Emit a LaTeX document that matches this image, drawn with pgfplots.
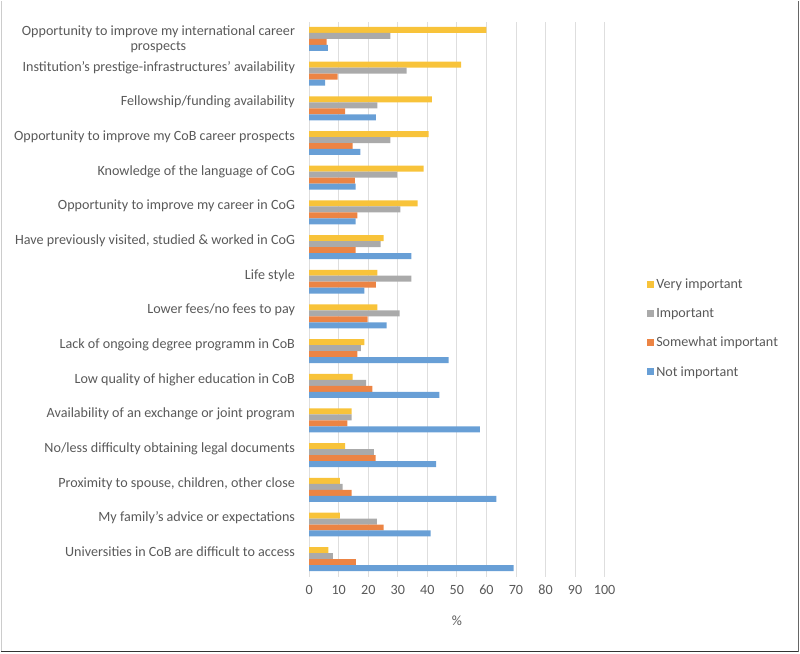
\documentclass[border=0pt]{standalone}
\usepackage{fontspec}
\setmainfont{Carlito}
\usepackage{pgfplots}
\pgfplotsset{compat=1.18}
\definecolor{cvery}{HTML}{F8C33A}
\definecolor{cimp}{HTML}{AAAAAA}
\definecolor{csome}{HTML}{EC8444}
\definecolor{cnot}{HTML}{689FD6}
\definecolor{gridc}{HTML}{DEDEDE}
\definecolor{txt}{HTML}{595959}
\begin{document}
\begin{tikzpicture}[font=\fontsize{10.6}{11.25}\selectfont]
\path (0,0) rectangle (600pt,489.75pt);
\draw[gray!40, line width=1pt] (0.5pt,0pt) -- (0.5pt,489.75pt);
\draw[black!80, line width=1.2pt] (0pt,0.6pt) -- (600pt,0.6pt);
\draw[black!60, line width=1pt] (599.5pt,0pt) -- (599.5pt,489.75pt);
\begin{axis}[
  at={(231.75pt,57pt)}, anchor=south west,
  scale only axis, width=222pt, height=417pt,
  xmin=0, xmax=100, xtick={0,10,...,100},
  ymin=-0.5, ymax=15.5, ytick={0,...,15},
  yticklabels={
    {Universities in CoB are difficult to access\\\mbox{}},
    {My family's advice or expectations\\\mbox{}},
    {Proximity to spouse, children, other close\\\mbox{}},
    {No/less difficulty obtaining legal documents\\\mbox{}},
    {Availability of an exchange or joint program\\\mbox{}},
    {Low quality of higher education in CoB\\\mbox{}},
    {Lack of ongoing degree programm in CoB\\\mbox{}},
    {Lower fees/no fees to pay\\\mbox{}},
    {Life style\\\mbox{}},
    {Have previously visited, studied \& worked in CoG\\\mbox{}},
    {Opportunity to improve my career in CoG\\\mbox{}},
    {Knowledge of the language of CoG\\\mbox{}},
    {Opportunity to improve my CoB career prospects\\\mbox{}},
    {Fellowship/funding availability\\\mbox{}},
    {Institution's prestige-infrastructures' availability\\\mbox{}},
    {Opportunity to improve my international career\\prospects}
  },
  yticklabel style={anchor=east, inner sep=0pt, xshift=-10.5pt, align=center, text=txt},
  xticklabel style={anchor=center, inner sep=0pt, yshift=-9.75pt, text=txt},
  /pgf/number format/assume math mode=true,
  xlabel={\%},
  xlabel style={at={(axis description cs:0.5,0)}, anchor=center, yshift=-33pt, text=txt},
  axis line style={draw=none},
  major tick length=0pt,
  xmajorgrids, grid style={color=gridc, line width=0.7pt},
  xbar, bar width=4.5pt,
  legend style={at={(1.128,0.5466)}, anchor=north west, draw=none, fill=none,
    text=txt, row sep=9.3pt, font=\fontsize{10.6}{11.25}\selectfont,
    /tikz/every even column/.append style={column sep=1pt}},
  legend cell align=left,
  every axis plot/.append style={draw=none,
    legend image code/.code={\fill[##1,draw=none] (0pt,-2.3pt) rectangle (5.2pt,2.9pt);}},
]
\addplot[fill=cvery, bar shift=6.75pt] coordinates {
 (60.0,15) (51.4,14) (41.5,13) (40.4,12) (38.7,11) (36.7,10) (25.2,9) (23.1,8)
 (23.1,7) (18.7,6) (14.7,5) (14.4,4) (12.2,3) (10.4,2) (10.4,1) (6.5,0)};
\addplot[fill=cimp, bar shift=2.25pt] coordinates {
 (27.5,15) (33.0,14) (23.1,13) (27.5,12) (29.8,11) (30.9,10) (24.2,9) (34.6,8)
 (30.6,7) (17.5,6) (19.3,5) (14.4,4) (21.9,3) (11.3,2) (22.9,1) (8.0,0)};
\addplot[fill=csome, bar shift=-2.25pt] coordinates {
 (5.9,15) (9.6,14) (12.2,13) (14.7,12) (15.5,11) (16.3,10) (15.7,9) (22.6,8)
 (19.8,7) (16.3,6) (21.4,5) (12.9,4) (22.5,3) (14.4,2) (25.2,1) (15.8,0)};
\addplot[fill=cnot, bar shift=-6.75pt] coordinates {
 (6.3,15) (5.4,14) (22.6,13) (17.3,12) (15.7,11) (15.7,10) (34.6,9) (18.7,8)
 (26.2,7) (47.2,6) (44.1,5) (57.8,4) (43.0,3) (63.4,2) (41.1,1) (69.2,0)};
\legend{Very important, Important, Somewhat important, Not important}
\end{axis}
\end{tikzpicture}
\end{document}
